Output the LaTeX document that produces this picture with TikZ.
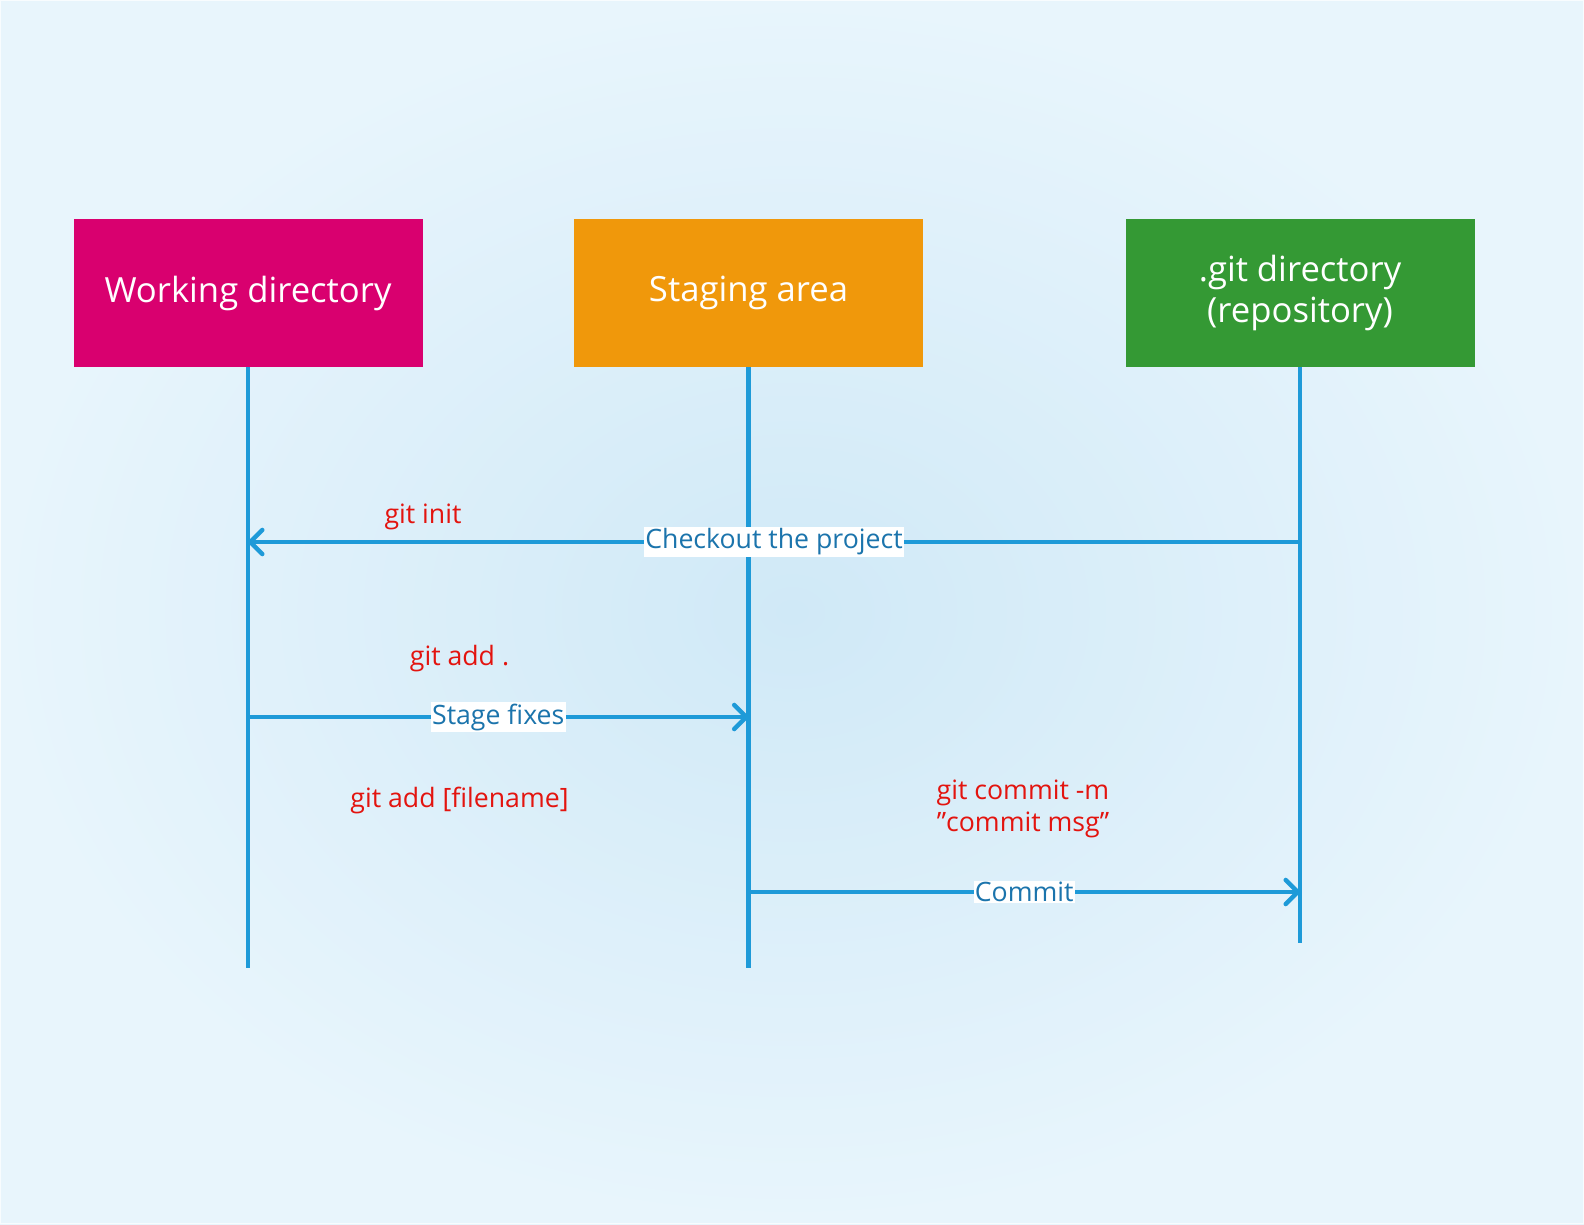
\documentclass[tikz,border=0pt]{standalone}
\usepackage{fontspec}
\setmainfont{Open Sans}
\usepackage{xcolor}
\usetikzlibrary{positioning, arrows.meta}

\definecolor{bgin}{HTML}{D0E9F7}
\definecolor{bgout}{HTML}{E8F5FC}
\definecolor{lifeblue}{HTML}{1E9AD8}
\definecolor{msgblue}{HTML}{1B74AC}
\definecolor{cmdred}{HTML}{E3140F}
\definecolor{wdpink}{HTML}{D9006F}
\definecolor{saorange}{HTML}{F0980B}
\definecolor{gdgreen}{HTML}{349934}

\begin{document}
\begin{tikzpicture}[
    x=0.75pt, y=-0.75pt,
    area/.style = {
        rectangle, minimum width=349*0.75pt, minimum height=148*0.75pt,
        text=white, align=center, font=\fontsize{26}{31}\selectfont
    },
    lifeline/.style = {draw=lifeblue, line width=3.4pt},
    msg/.style = {lifeline, -{Straight Barb[length=9pt, width=18pt, line cap=round, line join=round]}},
    msglabel/.style = {fill=white, text=msgblue, inner sep=1pt,
        font=\fontsize{20}{24}\selectfont},
    cmd/.style = {text=cmdred, align=center, font=\fontsize{20}{24}\selectfont}
  ]
    % background
    \useasboundingbox (0,0) rectangle (1584,1224);
    \shade[inner color=bgin, outer color=bgout] (0,0) rectangle (1584,1224);
    \draw[white!70!bgout, line width=1pt] (0.5,0.5) rectangle (1583.5,1223.5);

    % areas
    \node[area, fill=wdpink]   (wd) at (248,293)  {Working directory};
    \node[area, fill=saorange] (sa) at (748.5,293) {Staging area};
    \node[area, fill=gdgreen]  (gd) at (1300,293) {.git directory\\(repository)};

    % lifeline ends
    \coordinate (wdend) at (wd.south |- 0,968);
    \coordinate (saend) at (sa.south |- 0,968);
    \coordinate (gdend) at (gd.south |- 0,943);
    \draw[lifeline] (wd.south) -- (wdend);
    \draw[lifeline] (sa.south) -- (saend);
    \draw[lifeline] (gd.south) -- (gdend);

    % message points
    \coordinate (gdco) at (gd.south |- 0,542);
    \coordinate (wdco) at (wd.south |- 0,542);
    \coordinate (wdst) at (wd.south |- 0,717);
    \coordinate (sast) at (sa.south |- 0,717);
    \coordinate (sacm) at (sa.south |- 0,892);
    \coordinate (gdcm) at (gd.south |- 0,892);

    \draw[msg] (gdco) -- node[msglabel] (checkout) {Checkout the project} (wdco);
    \draw[msg] (wdst) -- node[msglabel] (stage) {Stage fixes} (sast);
    \draw[msg] (sacm) -- node[msglabel] (commit) {Commit} (gdcm);

    % commands
    \node[cmd] (init)   at (423,517)   {git init};
    \node[cmd] (addall) at (459.5,658.5) {git add .};
    \node[cmd] (addone) at (459.5,800) {git add [filename]};
    \node[cmd] (cmmsg)  at (1023,809)  {git commit -m\\”commit msg”};
\end{tikzpicture}
\end{document}
